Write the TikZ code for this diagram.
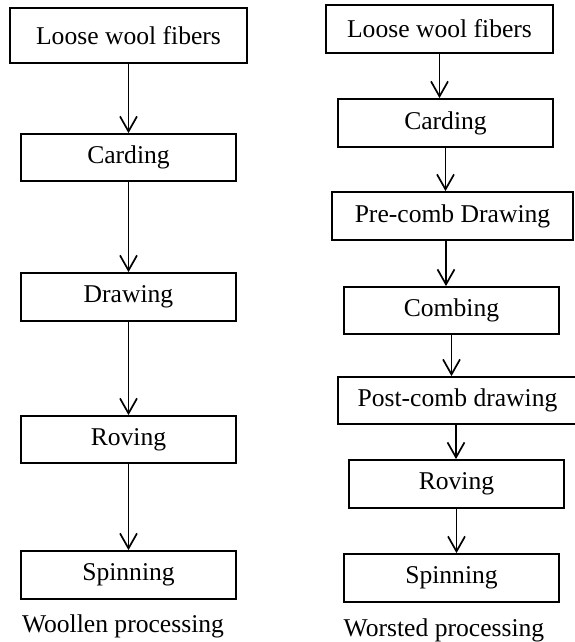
\documentclass[tikz,border=0pt]{standalone}
\usepackage{fontspec}
\setmainfont{Liberation Serif}
\usetikzlibrary{arrows.meta}
\begin{document}
\begin{tikzpicture}[x=0.5pt,y=-0.5pt,
  stepbox/.style={draw,line width=0.9pt,rectangle,inner sep=0pt,
    minimum width=107.5pt,minimum height=24pt,font=\fontsize{12.8}{15}\selectfont},
  arr/.style={line width=0.85pt,-{Straight Barb[length=7.5pt,width=8.5pt,line width=0.85pt]}},
  captext/.style={anchor=base,font=\fontsize{12.8}{15}\selectfont}]
\useasboundingbox (0,0) rectangle (574,642);
% Woollen
\node[stepbox,minimum width=118.5pt,minimum height=27.5pt] (L1) at (128.5,35.5) {Loose wool fibers};
\node[stepbox,minimum height=23.5pt] (L2) at (128.5,157.5) {Carding};
\node[stepbox] (L3) at (128.5,297) {Drawing};
\node[stepbox,minimum height=23.5pt] (L4) at (128.5,439.5) {Roving};
\node[stepbox] (L5) at (128.5,575) {Spinning};
\node[captext] (LC) at (123,632) {Woollen processing};
\draw[arr] (L1.south) -- (L1.south |- L2.north);
\draw[arr] (L2.south) -- (L2.south |- L3.north);
\draw[arr] (L3.south) -- (L3.south |- L4.north);
\draw[arr] (L4.south) -- (L4.south |- L5.north);
% Worsted
\node[stepbox,minimum width=113.5pt] (R1) at (439.5,29) {Loose wool fibers};
\node[stepbox] (R2) at (445.5,123) {Carding};
\node[stepbox,minimum width=120.5pt] (R3) at (452.5,216) {Pre-comb Drawing};
\node[stepbox,minimum height=23.5pt] (R4) at (451.5,310.5) {Combing};
\node[stepbox,minimum width=119.5pt,minimum height=23.5pt] (R5) at (457.5,400.5) {Post-comb drawing};
\node[stepbox] (R6) at (456.5,484) {Roving};
\node[stepbox] (R7) at (451.5,578) {Spinning};
\node[captext] (RC) at (444,636) {Worsted processing};
\draw[arr] (R1.south) -- (R1.south |- R2.north);
\draw[arr] (R2.south) -- (R2.south |- R3.north);
\draw[arr] ([xshift=-3.25pt]R3.south) -- ([xshift=-3.25pt]R3.south |- R4.north);
\draw[arr] (R4.south) -- (R4.south |- R5.north);
\draw[arr] ([xshift=-0.75pt]R5.south) -- ([xshift=-0.75pt]R5.south |- R6.north);
\draw[arr] (R6.south) -- (R6.south |- R7.north);
\end{tikzpicture}
\end{document}
